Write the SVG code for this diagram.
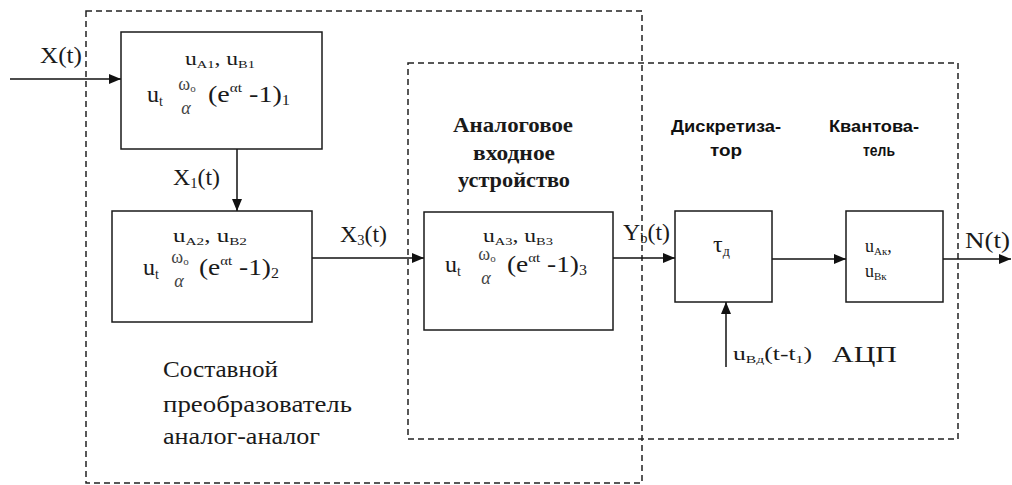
<svg xmlns="http://www.w3.org/2000/svg" width="1012" height="485" viewBox="0 0 1012 485">
<style>
.bg{fill:#fff}
.box{fill:#fff;stroke:#1a1a1a;stroke-width:1.5}
.dash{fill:none;stroke:#222;stroke-width:1.5;stroke-dasharray:6 4}
.conn{fill:none;stroke:#111;stroke-width:1.5;marker-end:url(#ah)}
.t{fill:#1a1a1a}
.lab{font-size:18px}
.lbl{font-size:23px}
.big{font-size:23px}
.bold{font-weight:bold;font-size:22px}
.sans{font-weight:bold;font-size:16px;fill:#111}
.s{font-size:11px}
.fm{font-size:24px}
.fs{font-size:14px}
.sup{font-size:13px}
.gr{fill:#444}
.om{font-size:18px}
.al{font-size:18px;font-style:italic}
</style>
<defs>
<marker id="ah" markerUnits="userSpaceOnUse" markerWidth="12" markerHeight="10" refX="12" refY="5" orient="auto">
<path d="M0,0 L12,5 L0,10 z" fill="#111"/>
</marker>
</defs>
<rect class="bg" x="0" y="0" width="1012" height="485"/>

<g id="frames">
<rect id="frame-aa" class="dash" x="86" y="11" width="556" height="472"/>
<rect id="frame-adc" class="dash" x="408" y="63" width="550" height="376"/>
</g>

<g id="connectors">
<line class="conn" x1="10" y1="79" x2="121" y2="79"/>
<line class="conn" x1="237" y1="149" x2="237" y2="211"/>
<line class="conn" x1="312" y1="258" x2="424" y2="258"/>
<line class="conn" x1="613" y1="258" x2="675" y2="258"/>
<line class="conn" x1="772" y1="259" x2="846" y2="259"/>
<line class="conn" x1="943" y1="259" x2="1011" y2="259"/>
<line class="conn" x1="726" y1="367" x2="726" y2="302"/>
</g>

<g id="edge-labels">
<text style="font-family:'Liberation Serif',serif" class="t lbl" x="40" y="63" textLength="42" lengthAdjust="spacingAndGlyphs">X(t)</text>
<text style="font-family:'Liberation Serif',serif" class="t lbl" x="173" y="185" textLength="47" lengthAdjust="spacingAndGlyphs">X<tspan class="fs" dy="3">1</tspan><tspan dy="-3">(t)</tspan></text>
<text style="font-family:'Liberation Serif',serif" class="t lbl" x="340" y="242" textLength="47" lengthAdjust="spacingAndGlyphs">X<tspan class="fs" dy="3">3</tspan><tspan dy="-3">(t)</tspan></text>
<text style="font-family:'Liberation Serif',serif" class="t lbl" x="623" y="240" textLength="47" lengthAdjust="spacingAndGlyphs">Y<tspan class="fs" dy="3">b</tspan><tspan dy="-3">(t)</tspan></text>
<text style="font-family:'Liberation Serif',serif" class="t lbl" x="965" y="248" textLength="45" lengthAdjust="spacingAndGlyphs">N(t)</text>
<text style="font-family:'Liberation Serif',serif" class="t lab" x="733" y="360" textLength="79" lengthAdjust="spacingAndGlyphs">u<tspan class="s" dy="3">Bд</tspan><tspan dy="-3">(t-t</tspan><tspan class="s" dy="3">1</tspan><tspan dy="-3">)</tspan></text>
</g>

<g id="n1">
<rect class="box" x="121" y="32" width="201" height="117"/>
<text style="font-family:'Liberation Serif',serif" class="t lab" x="185" y="65" textLength="70" lengthAdjust="spacingAndGlyphs">u<tspan class="s" dy="3">A1</tspan><tspan dy="-3">, u</tspan><tspan class="s" dy="3">B1</tspan></text>
<g transform="translate(147,102)">
<text style="font-family:'Liberation Serif',serif" class="t fm" x="0" y="0">u<tspan class="fs" dy="4">t</tspan></text>
<text style="font-family:'Liberation Serif',serif" class="t om gr" x="40" y="-12" text-anchor="middle">ω<tspan font-size="11" dy="2">o</tspan></text>
<text style="font-family:'Liberation Serif',serif" class="t al gr" x="39" y="12" text-anchor="middle">α</text>
<text style="font-family:'Liberation Serif',serif" class="t fm" x="61" y="0" textLength="82" lengthAdjust="spacingAndGlyphs">(e<tspan class="sup" dy="-10">αt</tspan><tspan dy="10"> -1)</tspan><tspan class="fs" dy="3">1</tspan></text>
</g>
</g>

<g id="n2">
<rect class="box" x="112" y="211" width="200" height="111"/>
<text style="font-family:'Liberation Serif',serif" class="t lab" x="173" y="242" textLength="74" lengthAdjust="spacingAndGlyphs">u<tspan class="s" dy="3">A2</tspan><tspan dy="-3">, u</tspan><tspan class="s" dy="3">B2</tspan></text>
<g transform="translate(143,275)">
<text style="font-family:'Liberation Serif',serif" class="t fm" x="0" y="0">u<tspan class="fs" dy="4">t</tspan></text>
<text style="font-family:'Liberation Serif',serif" class="t om gr" x="37" y="-12" text-anchor="middle">ω<tspan font-size="11" dy="2">o</tspan></text>
<text style="font-family:'Liberation Serif',serif" class="t al gr" x="36" y="12" text-anchor="middle">α</text>
<text style="font-family:'Liberation Serif',serif" class="t fm" x="56" y="0" textLength="80" lengthAdjust="spacingAndGlyphs">(e<tspan class="sup" dy="-10">αt</tspan><tspan dy="10"> -1)</tspan><tspan class="fs" dy="3">2</tspan></text>
</g>
</g>

<g id="n3">
<rect class="box" x="424" y="212" width="189" height="118"/>
<text style="font-family:'Liberation Serif',serif" class="t lab" x="483" y="242" textLength="70" lengthAdjust="spacingAndGlyphs">u<tspan class="s" dy="3">A3</tspan><tspan dy="-3">, u</tspan><tspan class="s" dy="3">B3</tspan></text>
<g transform="translate(445,272)">
<text style="font-family:'Liberation Serif',serif" class="t fm" x="0" y="0">u<tspan class="fs" dy="4">t</tspan></text>
<text style="font-family:'Liberation Serif',serif" class="t om gr" x="42" y="-12" text-anchor="middle">ω<tspan font-size="11" dy="2">o</tspan></text>
<text style="font-family:'Liberation Serif',serif" class="t al gr" x="41" y="12" text-anchor="middle">α</text>
<text style="font-family:'Liberation Serif',serif" class="t fm" x="62" y="0" textLength="80" lengthAdjust="spacingAndGlyphs">(e<tspan class="sup" dy="-10">αt</tspan><tspan dy="10"> -1)</tspan><tspan class="fs" dy="3">3</tspan></text>
</g>
</g>

<g id="n4">
<rect class="box" x="675" y="211" width="97" height="91"/>
<text style="font-family:'Liberation Serif',serif" class="t fm" x="713" y="252">τ<tspan class="fs" dy="4">д</tspan></text>
</g>

<g id="n5">
<rect class="box" x="846" y="211" width="97" height="91"/>
<text style="font-family:'Liberation Serif',serif" class="t lab" x="865" y="252">u<tspan class="s" dy="3">Aк</tspan><tspan dy="-3">,</tspan></text>
<text style="font-family:'Liberation Serif',serif" class="t lab" x="865" y="277">u<tspan class="s" dy="3">Bк</tspan></text>
</g>

<g id="label-aa">
<text style="font-family:'Liberation Serif',serif" class="t big" x="163" y="377" textLength="115" lengthAdjust="spacingAndGlyphs">Составной</text>
<text style="font-family:'Liberation Serif',serif" class="t big" x="163" y="412" textLength="189" lengthAdjust="spacingAndGlyphs">преобразователь</text>
<text style="font-family:'Liberation Serif',serif" class="t big" x="163" y="444" textLength="157" lengthAdjust="spacingAndGlyphs">аналог-аналог</text>
</g>

<g id="label-input">
<text style="font-family:'Liberation Serif',serif" class="t bold" x="513" y="132" text-anchor="middle" textLength="120" lengthAdjust="spacingAndGlyphs">Аналоговое</text>
<text style="font-family:'Liberation Serif',serif" class="t bold" x="514" y="160" text-anchor="middle" textLength="82" lengthAdjust="spacingAndGlyphs">входное</text>
<text style="font-family:'Liberation Serif',serif" class="t bold" x="514" y="187" text-anchor="middle" textLength="112" lengthAdjust="spacingAndGlyphs">устройство</text>
</g>

<g id="label-disc">
<text style="font-family:'Liberation Sans',sans-serif" class="sans" x="726" y="132" text-anchor="middle" textLength="110" lengthAdjust="spacingAndGlyphs">Дискретиза-</text>
<text style="font-family:'Liberation Sans',sans-serif" class="sans" x="726" y="156" text-anchor="middle" textLength="32" lengthAdjust="spacingAndGlyphs">тор</text>
</g>

<g id="label-quant">
<text style="font-family:'Liberation Sans',sans-serif" class="sans" x="874" y="132" text-anchor="middle" textLength="90" lengthAdjust="spacingAndGlyphs">Квантова-</text>
<text style="font-family:'Liberation Sans',sans-serif" class="sans" x="879" y="156" text-anchor="middle" textLength="32" lengthAdjust="spacingAndGlyphs">тель</text>
</g>

<g id="label-adc">
<text style="font-family:'Liberation Serif',serif" class="t lbl" x="832" y="362" textLength="65" lengthAdjust="spacingAndGlyphs">АЦП</text>
</g>
</svg>
